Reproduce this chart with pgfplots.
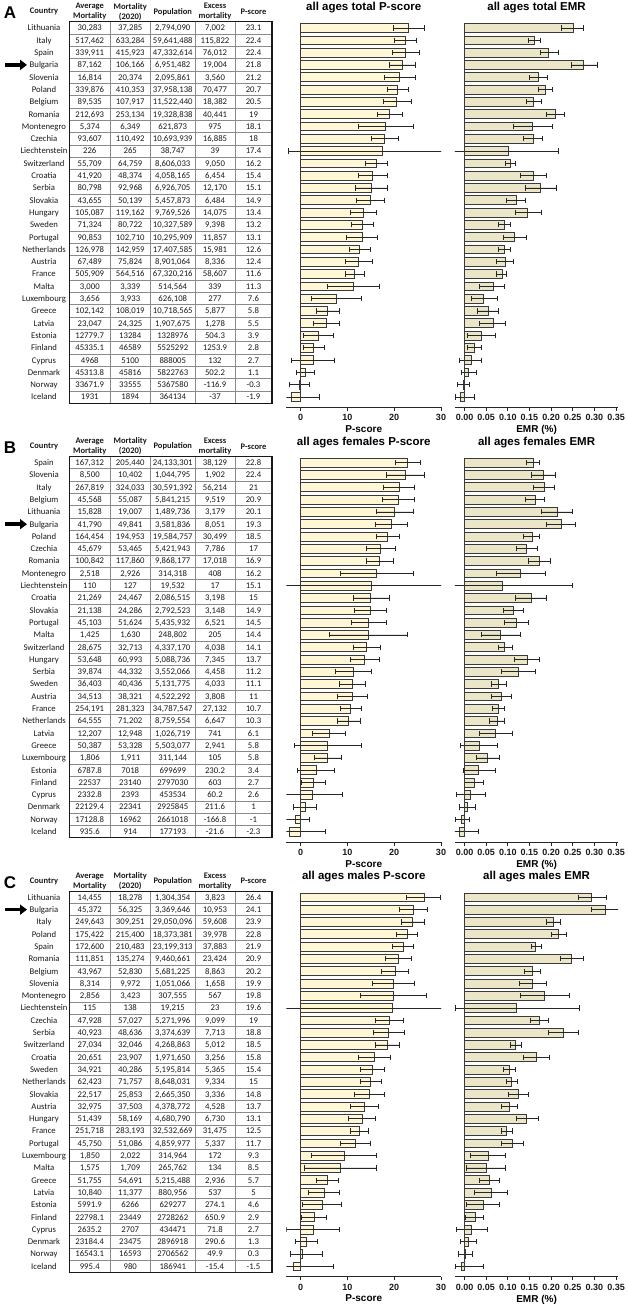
\documentclass[border=0pt]{standalone}
\usepackage{fontspec}
\setmainfont{Carlito}
\newfontfamily\hv{Liberation Sans}
\usepackage{pgfplots}
\pgfplotsset{compat=1.18}
\usepackage{pgfplotstable}
\usetikzlibrary{arrows.meta}
\definecolor{pfill}{HTML}{FFF7D6}
\definecolor{efill}{HTML}{ECE6C9}
\definecolor{bard}{HTML}{3A3A3A}
\definecolor{gridc}{HTML}{8A8A8A}

% r = row, pv/pm/pp = P-score value, minus, plus ; ev/em/ep = EMR value, minus, plus
\pgfplotstableread{
r pv pm pp ev em ep
0 23.1 3.2 3.3 0.2506 0.027 0.023
1 22.4 2.3 2.3 0.1606 0.013 0.014
2 22.4 2.8 2.9 0.1942 0.018 0.022
3 21.8 2.8 2.8 0.2734 0.027 0.033
4 21.2 3.3 3.4 0.1699 0.021 0.022
5 20.7 2.2 2.4 0.1857 0.015 0.017
6 20.5 2.9 3.1 0.1595 0.017 0.018
7 19.0 2.6 2.8 0.2092 0.020 0.022
8 18.1 5.7 5.9 0.1568 0.043 0.046
9 18.0 2.8 2.9 0.1579 0.021 0.023
10 17.4 20.0 14.0 0.1007 0.130 0.116
11 16.2 2.3 2.4 0.1052 0.010 0.013
12 15.4 3.1 3.2 0.1590 0.029 0.030
13 15.1 3.4 3.5 0.1757 0.035 0.037
14 14.9 3.0 3.0 0.1188 0.021 0.022
15 13.4 2.7 2.9 0.1441 0.026 0.034
16 13.2 2.3 2.4 0.0910 0.013 0.015
17 13.1 3.3 3.4 0.1152 0.025 0.028
18 12.6 2.2 2.3 0.0918 0.014 0.015
19 12.4 2.8 3.0 0.0937 0.019 0.018
20 11.6 2.0 2.1 0.0871 0.013 0.009
21 11.3 5.6 5.6 0.0659 0.031 0.025
22 7.6 5.2 5.3 0.0442 0.029 0.031
23 5.8 2.5 2.6 0.0548 0.024 0.023
24 5.5 2.7 2.8 0.0670 0.033 0.028
25 3.9 3.2 3.2 0.0379 0.031 0.033
26 2.8 2.2 2.2 0.0227 0.015 0.017
27 2.7 4.6 4.6 0.0149 0.026 0.025
28 1.1 2.0 1.8 0.0086 0.016 0.018
29 -0.3 2.0 2.2 -0.0022 0.014 0.013
30 -1.9 5.9 5.9 -0.0102 0.012 0.034
}\dA

\pgfplotstableread{
r pv pm pp ev em ep
0 22.8 2.6 2.8 0.1580 0.015 0.015
1 22.4 4.0 4.1 0.1820 0.027 0.027
2 21.0 3.3 3.4 0.1838 0.024 0.024
3 20.9 3.4 3.5 0.1630 0.023 0.022
4 20.1 4.0 4.1 0.2134 0.036 0.035
5 19.3 3.3 3.5 0.2248 0.035 0.032
6 18.5 2.4 2.6 0.1557 0.020 0.017
7 17.0 2.9 3.2 0.1436 0.024 0.024
8 16.9 2.8 3.0 0.1725 0.025 0.026
9 16.2 7.7 7.8 0.1298 0.057 0.056
10 15.1 20.0 20.0 0.0870 0.130 0.161
11 15.0 3.8 3.9 0.1533 0.035 0.035
12 14.9 3.5 3.5 0.1127 0.023 0.024
13 14.5 3.6 3.8 0.1200 0.028 0.027
14 14.4 8.3 8.5 0.0824 0.044 0.046
15 14.1 2.9 2.9 0.0931 0.016 0.017
16 13.7 3.1 3.1 0.1443 0.029 0.029
17 11.2 3.8 3.9 0.1255 0.041 0.039
18 11.1 2.7 2.8 0.0786 0.017 0.017
19 11.0 3.1 3.2 0.0842 0.022 0.023
20 10.7 2.2 2.2 0.0780 0.014 0.015
21 10.3 2.5 2.5 0.0759 0.018 0.017
22 6.1 3.5 3.5 0.0722 0.039 0.039
23 5.8 7.1 7.1 0.0337 0.044 0.042
24 5.8 2.9 2.9 0.0534 0.027 0.027
25 3.4 4.0 3.9 0.0329 0.036 0.038
26 2.7 2.6 2.7 0.0216 0.021 0.021
27 2.6 6.3 6.3 0.0133 0.033 0.034
28 1.0 2.6 2.4 0.0072 0.019 0.018
29 -1.0 2.2 2.8 -0.0063 0.014 0.018
30 -2.3 7.6 7.6 -0.0122 0.020 0.044
}\dB

\pgfplotstableread{
r pv pm pp ev em ep
0 26.4 3.7 3.5 0.2931 0.031 0.034
1 24.1 2.9 2.9 0.3250 0.032 0.032
2 23.9 2.45 2.45 0.2052 0.015 0.017
3 22.8 2.25 2.25 0.2176 0.017 0.017
4 21.9 2.2 2.2 0.1633 0.010 0.014
5 20.9 2.8 2.8 0.2476 0.027 0.027
6 20.2 2.9 2.9 0.1560 0.018 0.020
7 19.9 4.5 4.5 0.1577 0.030 0.031
8 19.8 7.0 7.0 0.1844 0.056 0.057
9 19.6 25.0 25.0 0.1197 0.140 0.146
10 19.0 3.0 3.0 0.1726 0.020 0.022
11 18.8 3.35 3.35 0.2286 0.035 0.035
12 18.5 2.55 2.55 0.1174 0.012 0.015
13 15.8 3.45 3.45 0.1651 0.030 0.032
14 15.4 2.55 2.55 0.1033 0.013 0.015
15 15.0 2.3 2.3 0.1079 0.012 0.014
16 14.8 3.2 3.2 0.1252 0.023 0.023
17 13.7 3.0 3.0 0.1034 0.018 0.019
18 13.1 2.85 2.85 0.1438 0.024 0.026
19 12.5 1.95 1.95 0.0967 0.012 0.013
20 11.7 3.2 3.2 0.1098 0.025 0.027
21 9.3 6.9 6.9 0.0546 0.040 0.040
22 8.5 7.7 7.7 0.0504 0.045 0.045
23 5.7 2.4 2.4 0.0563 0.023 0.024
24 5.0 3.35 3.35 0.0610 0.039 0.039
25 4.6 4.15 4.15 0.0436 0.039 0.038
26 2.9 2.65 2.65 0.0239 0.021 0.020
27 2.7 5.7 5.7 0.0165 0.036 0.036
28 1.3 2.35 2.35 0.0100 0.019 0.017
29 0.3 2.4 4.3 0.0018 0.017 0.016
30 -1.5 8.6 8.6 -0.0082 0.012 0.051
}\dC

\pgfplotsset{
 pbase/.style={scale only axis, anchor=north west, height=386.84pt, ymin=-30.85, ymax=0.6,
  axis y line=none, axis x line*=bottom, axis line style={-, line width=0.8pt, black!85},
  ytick=\empty, xtick align=outside, major tick length=3.5pt, tick style={line width=0.8pt, black!85},
  /pgf/number format/assume math mode=true,
  ticklabel style={font=\hv\bfseries\fontsize{9}{10}\selectfont, text=black!90},
  title style={font=\hv\bfseries\fontsize{11.5}{13}\selectfont, yshift=-2pt},
  xlabel style={font=\hv\bfseries\fontsize{10}{11}\selectfont, yshift=2pt},
 },
 ps/.style={pbase, xmin=-3, xmax=30, width=154.55pt, xtick={0,10,20,30}, xticklabels={0,10,20,30}, xlabel={P-score}},
 em/.style={pbase, xmin=-0.022, xmax=0.355, width=163.2pt, xtick={0,0.05,0.1,0.15,0.2,0.25,0.3,0.35}, xticklabels={0.00,0.05,0.10,0.15,0.20,0.25,0.30,0.35}, xlabel={EMR (\%)}},
 barp/.style={xbar, bar width=0.72, fill=#1, draw=bard, line width=0.7pt, error bars/.cd, x dir=both, x explicit, error bar style={line width=0.7pt, black!85}, error mark options={rotate=90, line width=0.7pt, black!85, mark size=2.6pt}},
}

\tikzset{tc/.style={anchor=base, inner sep=0pt, font=\fontsize{8.7}{10}\selectfont, text=black!90},
 th/.style={align=center, inner sep=0pt, font=\bfseries\fontsize{8.5}{10}\selectfont, text=black!90}}

\def\poff{0}
\def\rsp{12.3}
\def\rfirst{28}
\newcommand\trow[7]{\pgfmathsetmacro\ry{\poff+\rfirst+\rsp*#1+2.9}%
 \node[tc] at (44pt,-\ry pt) {#2};
 \node[tc] at (89.75pt,-\ry pt) {#3};
 \node[tc] at (130.25pt,-\ry pt) {#4};
 \node[tc] at (172.75pt,-\ry pt) {#5};
 \node[tc] at (215pt,-\ry pt) {#6};
 \node[tc] at (253.5pt,-\ry pt) {#7};}
\newcommand\tgrid{%
 \pgfmathsetmacro\ttop{\poff+\rfirst-\rsp/2}%
 \pgfmathsetmacro\tbot{\poff+\rfirst+\rsp*30+\rsp/2}%
 \foreach \i in {1,...,30}{\pgfmathsetmacro\yy{\poff+\rfirst-\rsp/2+\rsp*\i}\draw[gridc, line width=0.7pt] (69.5pt,-\yy pt) -- (272pt,-\yy pt);}
 \foreach \xx in {110,150.5,195,235}{\draw[gridc, line width=0.7pt] (\xx pt,-\ttop pt) -- (\xx pt,-\tbot pt);}
 \draw[line width=1.1pt, black!90] (69.5pt,-\ttop pt) rectangle (272pt,-\tbot pt);
 \pgfmathsetmacro\hy{\poff+11.8}%
 \node[th] at (44pt,-\hy pt) {Country};
 \node[th] at (89.75pt,-\hy pt) {Average\\Mortality};
 \node[th] at (130.25pt,-\hy pt) {Mortality\\(2020)};
 \node[th] at (172.75pt,-\hy pt) {Population};
 \node[th] at (215pt,-\hy pt) {Excess\\mortality};
 \node[th] at (253.5pt,-\hy pt) {P-score};}
\newcommand\barrow[1]{\pgfmathsetmacro\ay{\poff+\rfirst+\rsp*#1}%
 \draw[line width=3.4pt, -{Triangle[length=7pt,width=10pt]}] (5pt,-\ay pt) -- (27pt,-\ay pt);}

\begin{document}
\begin{tikzpicture}
\useasboundingbox (0pt,0pt) rectangle (628pt,-1304pt);

% ---------------- Panel A ----------------
\def\poff{0}
\node[font=\hv\bfseries\fontsize{17}{17}\selectfont] at (10pt,-13pt) {A};
\tgrid
\barrow{3}
\trow{0}{Lithuania}{30,283}{37,285}{2,794,090}{7,002}{23.1}
\trow{1}{Italy}{517,462}{633,284}{59,641,488}{115,822}{22.4}
\trow{2}{Spain}{339,911}{415,923}{47,332,614}{76,012}{22.4}
\trow{3}{Bulgaria}{87,162}{106,166}{6,951,482}{19,004}{21.8}
\trow{4}{Slovenia}{16,814}{20,374}{2,095,861}{3,560}{21.2}
\trow{5}{Poland}{339,876}{410,353}{37,958,138}{70,477}{20.7}
\trow{6}{Belgium}{89,535}{107,917}{11,522,440}{18,382}{20.5}
\trow{7}{Romania}{212,693}{253,134}{19,328,838}{40,441}{19}
\trow{8}{Montenegro}{5,374}{6,349}{621,873}{975}{18.1}
\trow{9}{Czechia}{93,607}{110,492}{10,693,939}{16,885}{18}
\trow{10}{Liechtenstein}{226}{265}{38,747}{39}{17.4}
\trow{11}{Switzerland}{55,709}{64,759}{8,606,033}{9,050}{16.2}
\trow{12}{Croatia}{41,920}{48,374}{4,058,165}{6,454}{15.4}
\trow{13}{Serbia}{80,798}{92,968}{6,926,705}{12,170}{15.1}
\trow{14}{Slovakia}{43,655}{50,139}{5,457,873}{6,484}{14.9}
\trow{15}{Hungary}{105,087}{119,162}{9,769,526}{14,075}{13.4}
\trow{16}{Sweden}{71,324}{80,722}{10,327,589}{9,398}{13.2}
\trow{17}{Portugal}{90,853}{102,710}{10,295,909}{11,857}{13.1}
\trow{18}{Netherlands}{126,978}{142,959}{17,407,585}{15,981}{12.6}
\trow{19}{Austria}{67,489}{75,824}{8,901,064}{8,336}{12.4}
\trow{20}{France}{505,909}{564,516}{67,320,216}{58,607}{11.6}
\trow{21}{Malta}{3,000}{3,339}{514,564}{339}{11.3}
\trow{22}{Luxembourg}{3,656}{3,933}{626,108}{277}{7.6}
\trow{23}{Greece}{102,142}{108,019}{10,718,565}{5,877}{5.8}
\trow{24}{Latvia}{23,047}{24,325}{1,907,675}{1,278}{5.5}
\trow{25}{Estonia}{12779.7}{13284}{1328976}{504.3}{3.9}
\trow{26}{Finland}{45335.1}{46589}{5525292}{1253.9}{2.8}
\trow{27}{Cyprus}{4968}{5100}{888005}{132}{2.7}
\trow{28}{Denmark}{45313.8}{45816}{5822763}{502.2}{1.1}
\trow{29}{Norway}{33671.9}{33555}{5367580}{-116.9}{-0.3}
\trow{30}{Iceland}{1931}{1894}{364134}{-37}{-1.9}

\begin{axis}[ps, at={(286.45pt,-20.62pt)}, title={all ages total P-score}]
\addplot[barp=pfill] table[x=pv, y expr=-\thisrow{r}, x error plus=pp, x error minus=pm] {\dA};
\draw[bard, line width=0.8pt] (axis cs:0,0.36) -- (axis cs:0,-30.36);
\end{axis}
\begin{axis}[em, at={(454.98pt,-20.62pt)}, title={all ages total EMR}]
\addplot[barp=efill] table[x=ev, y expr=-\thisrow{r}, x error plus=ep, x error minus=em] {\dA};
\draw[bard, line width=0.8pt] (axis cs:0,0.36) -- (axis cs:0,-30.36);
\end{axis}

% ---------------- Panel B ----------------
\def\poff{434.67}
\node[font=\hv\bfseries\fontsize{17}{17}\selectfont] at (10pt,-447.67pt) {B};
\tgrid
\barrow{5}
\trow{0}{Spain}{167,312}{205,440}{24,133,301}{38,129}{22.8}
\trow{1}{Slovenia}{8,500}{10,402}{1,044,795}{1,902}{22.4}
\trow{2}{Italy}{267,819}{324,033}{30,591,392}{56,214}{21}
\trow{3}{Belgium}{45,568}{55,087}{5,841,215}{9,519}{20.9}
\trow{4}{Lithuania}{15,828}{19,007}{1,489,736}{3,179}{20.1}
\trow{5}{Bulgaria}{41,790}{49,841}{3,581,836}{8,051}{19.3}
\trow{6}{Poland}{164,454}{194,953}{19,584,757}{30,499}{18.5}
\trow{7}{Czechia}{45,679}{53,465}{5,421,943}{7,786}{17}
\trow{8}{Romania}{100,842}{117,860}{9,868,177}{17,018}{16.9}
\trow{9}{Montenegro}{2,518}{2,926}{314,318}{408}{16.2}
\trow{10}{Liechtenstein}{110}{127}{19,532}{17}{15.1}
\trow{11}{Croatia}{21,269}{24,467}{2,086,515}{3,198}{15}
\trow{12}{Slovakia}{21,138}{24,286}{2,792,523}{3,148}{14.9}
\trow{13}{Portugal}{45,103}{51,624}{5,435,932}{6,521}{14.5}
\trow{14}{Malta}{1,425}{1,630}{248,802}{205}{14.4}
\trow{15}{Switzerland}{28,675}{32,713}{4,337,170}{4,038}{14.1}
\trow{16}{Hungary}{53,648}{60,993}{5,088,736}{7,345}{13.7}
\trow{17}{Serbia}{39,874}{44,332}{3,552,066}{4,458}{11.2}
\trow{18}{Sweden}{36,403}{40,436}{5,131,775}{4,033}{11.1}
\trow{19}{Austria}{34,513}{38,321}{4,522,292}{3,808}{11}
\trow{20}{France}{254,191}{281,323}{34,787,547}{27,132}{10.7}
\trow{21}{Netherlands}{64,555}{71,202}{8,759,554}{6,647}{10.3}
\trow{22}{Latvia}{12,207}{12,948}{1,026,719}{741}{6.1}
\trow{23}{Greece}{50,387}{53,328}{5,503,077}{2,941}{5.8}
\trow{24}{Luxembourg}{1,806}{1,911}{311,144}{105}{5.8}
\trow{25}{Estonia}{6787.8}{7018}{699699}{230.2}{3.4}
\trow{26}{Finland}{22537}{23140}{2797030}{603}{2.7}
\trow{27}{Cyprus}{2332.8}{2393}{453534}{60.2}{2.6}
\trow{28}{Denmark}{22129.4}{22341}{2925845}{211.6}{1}
\trow{29}{Norway}{17128.8}{16962}{2661018}{-166.8}{-1}
\trow{30}{Iceland}{935.6}{914}{177193}{-21.6}{-2.3}

\begin{axis}[ps, at={(286.45pt,-455.29pt)}, title={all ages females P-score}]
\addplot[barp=pfill] table[x=pv, y expr=-\thisrow{r}, x error plus=pp, x error minus=pm] {\dB};
\draw[bard, line width=0.8pt] (axis cs:0,0.36) -- (axis cs:0,-30.36);
\end{axis}
\begin{axis}[em, at={(454.98pt,-455.29pt)}, title={all ages females EMR}]
\addplot[barp=efill] table[x=ev, y expr=-\thisrow{r}, x error plus=ep, x error minus=em] {\dB};
\draw[bard, line width=0.8pt] (axis cs:0,0.36) -- (axis cs:0,-30.36);
\end{axis}

% ---------------- Panel C ----------------
\def\poff{869.33}
\node[font=\hv\bfseries\fontsize{17}{17}\selectfont] at (10pt,-882.33pt) {C};
\tgrid
\barrow{1}
\trow{0}{Lithuania}{14,455}{18,278}{1,304,354}{3,823}{26.4}
\trow{1}{Bulgaria}{45,372}{56,325}{3,369,646}{10,953}{24.1}
\trow{2}{Italy}{249,643}{309,251}{29,050,096}{59,608}{23.9}
\trow{3}{Poland}{175,422}{215,400}{18,373,381}{39,978}{22.8}
\trow{4}{Spain}{172,600}{210,483}{23,199,313}{37,883}{21.9}
\trow{5}{Romania}{111,851}{135,274}{9,460,661}{23,424}{20.9}
\trow{6}{Belgium}{43,967}{52,830}{5,681,225}{8,863}{20.2}
\trow{7}{Slovenia}{8,314}{9,972}{1,051,066}{1,658}{19.9}
\trow{8}{Montenegro}{2,856}{3,423}{307,555}{567}{19.8}
\trow{9}{Liechtenstein}{115}{138}{19,215}{23}{19.6}
\trow{10}{Czechia}{47,928}{57,027}{5,271,996}{9,099}{19}
\trow{11}{Serbia}{40,923}{48,636}{3,374,639}{7,713}{18.8}
\trow{12}{Switzerland}{27,034}{32,046}{4,268,863}{5,012}{18.5}
\trow{13}{Croatia}{20,651}{23,907}{1,971,650}{3,256}{15.8}
\trow{14}{Sweden}{34,921}{40,286}{5,195,814}{5,365}{15.4}
\trow{15}{Netherlands}{62,423}{71,757}{8,648,031}{9,334}{15}
\trow{16}{Slovakia}{22,517}{25,853}{2,665,350}{3,336}{14.8}
\trow{17}{Austria}{32,975}{37,503}{4,378,772}{4,528}{13.7}
\trow{18}{Hungary}{51,439}{58,169}{4,680,790}{6,730}{13.1}
\trow{19}{France}{251,718}{283,193}{32,532,669}{31,475}{12.5}
\trow{20}{Portugal}{45,750}{51,086}{4,859,977}{5,337}{11.7}
\trow{21}{Luxembourg}{1,850}{2,022}{314,964}{172}{9.3}
\trow{22}{Malta}{1,575}{1,709}{265,762}{134}{8.5}
\trow{23}{Greece}{51,755}{54,691}{5,215,488}{2,936}{5.7}
\trow{24}{Latvia}{10,840}{11,377}{880,956}{537}{5}
\trow{25}{Estonia}{5991.9}{6266}{629277}{274.1}{4.6}
\trow{26}{Finland}{22798.1}{23449}{2728262}{650.9}{2.9}
\trow{27}{Cyprus}{2635.2}{2707}{434471}{71.8}{2.7}
\trow{28}{Denmark}{23184.4}{23475}{2896918}{290.6}{1.3}
\trow{29}{Norway}{16543.1}{16593}{2706562}{49.9}{0.3}
\trow{30}{Iceland}{995.4}{980}{186941}{-15.4}{-1.5}

\begin{axis}[ps, at={(286.45pt,-889.95pt)}, title={all ages males P-score}]
\addplot[barp=pfill] table[x=pv, y expr=-\thisrow{r}, x error plus=pp, x error minus=pm] {\dC};
\draw[bard, line width=0.8pt] (axis cs:0,0.36) -- (axis cs:0,-30.36);
\end{axis}
\begin{axis}[em, at={(454.98pt,-889.95pt)}, title={all ages males EMR}]
\addplot[barp=efill] table[x=ev, y expr=-\thisrow{r}, x error plus=ep, x error minus=em] {\dC};
\draw[bard, line width=0.8pt] (axis cs:0,0.36) -- (axis cs:0,-30.36);
\end{axis}
\end{tikzpicture}
\end{document}
